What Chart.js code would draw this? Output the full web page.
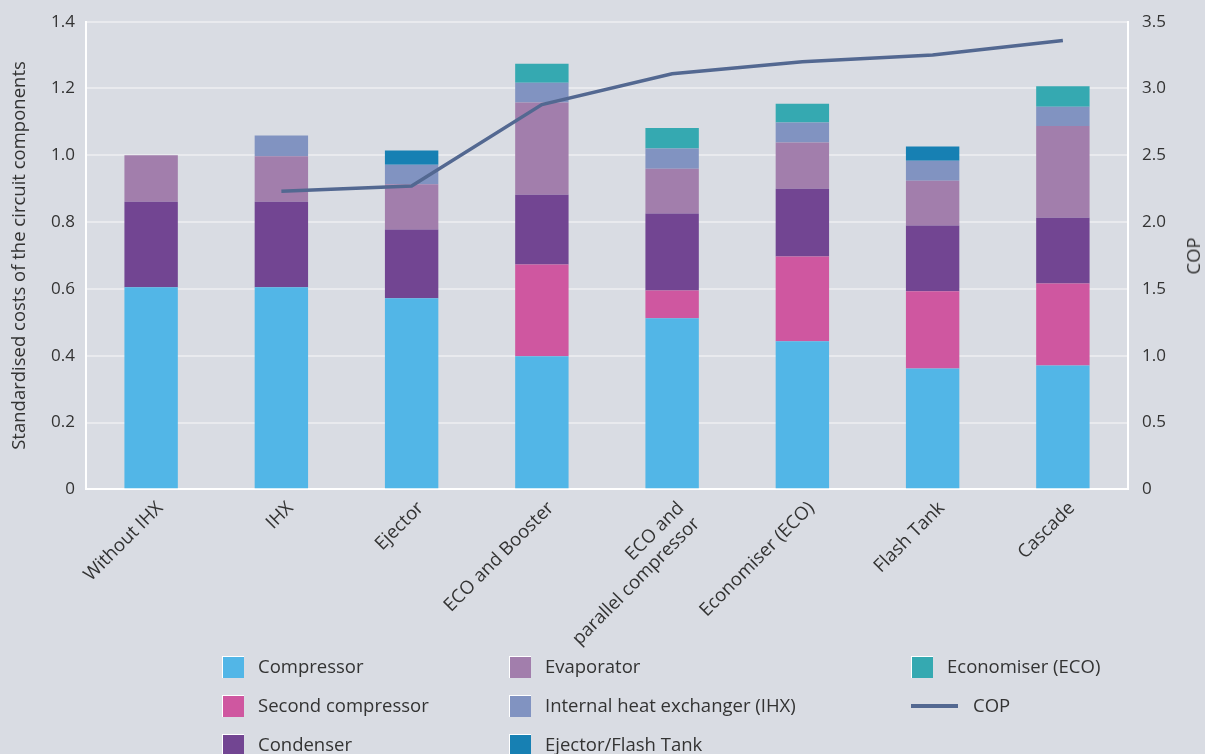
<!DOCTYPE html>
<html>
<head>
<meta charset="utf-8">
<script src="https://cdn.jsdelivr.net/npm/chart.js@4/dist/chart.umd.min.js"></script>
<style>
  html, body { margin:0; padding:0; background:#d9dce3; }
  #wrap { position:relative; width:1205px; height:754px; overflow:hidden; font-family:"Open Sans", sans-serif; }
  canvas { position:absolute; left:0; top:0; }
  .lg { position:absolute; font-size:18.5px; color:#333; white-space:nowrap; line-height:24px; }
  .sw { position:absolute; width:21px; height:21px; border-top:1px solid #fff; border-left:1px solid #fff; }
  .ln { position:absolute; width:47px; height:4px; }
  #copTitle { position:absolute; left:1193px; top:256px; transform:translate(-50%,-50%) rotate(-90deg);
              font-size:18.5px; color:#333; white-space:nowrap; line-height:24px; }
</style>
</head>
<body>
<div id="wrap">
  <canvas id="c" width="1205" height="754"></canvas>
  <div id="copTitle">COP</div>
  <div id="legend"></div>
</div>
<script>
const categories = ["Without IHX", "IHX", "Ejector", "ECO and Booster", ["ECO and", "parallel compressor"], "Economiser (ECO)", "Flash Tank", "Cascade"];
const compressor       = [0.605, 0.605, 0.572, 0.398, 0.512, 0.443, 0.362, 0.371];
const secondCompressor = [0,     0,     0,     0.275, 0.083, 0.254, 0.231, 0.245];
const condenser        = [0.256, 0.256, 0.206, 0.209, 0.231, 0.203, 0.197, 0.197];
const evaporator       = [0.139, 0.136, 0.135, 0.276, 0.134, 0.138, 0.134, 0.275];
const ihx              = [0,     0.062, 0.059, 0.059, 0.060, 0.060, 0.060, 0.057];
const ejectorFlash     = [0,     0,     0.042, 0,     0,     0,     0.042, 0];
const economiser       = [0,     0,     0,     0.057, 0.062, 0.056, 0,     0.062];
const cop              = [null,  2.23,  2.27,  2.88,  3.11,  3.20,  3.25,  3.36];
const leftTicks  = [0, 0.2, 0.4, 0.6, 0.8, 1.0, 1.2, 1.4];
const rightTicks = [0, 0.5, 1.0, 1.5, 2.0, 2.5, 3.0, 3.5];

const colors = {
  compressor: "#52b6e7", second: "#cf57a0", condenser: "#724592", evaporator: "#a27eac",
  ihx: "#8193c1", ejector: "#1780b3", eco: "#35a9b1", cop: "#536891"
};

function bar(label, data, color) {
  return { type: "bar", label, data, backgroundColor: color, borderWidth: 0,
           yAxisID: "y", order: 1, barPercentage: 0.41, categoryPercentage: 1.0 };
}

const FONT = "'Open Sans', sans-serif";
const TXT = "#333333";

new Chart(document.getElementById("c"), {
  data: {
    labels: categories,
    datasets: [
      bar("Compressor", compressor, colors.compressor),
      bar("Second compressor", secondCompressor, colors.second),
      bar("Condenser", condenser, colors.condenser),
      bar("Evaporator", evaporator, colors.evaporator),
      bar("Internal heat exchanger (IHX)", ihx, colors.ihx),
      bar("Ejector/Flash Tank", ejectorFlash, colors.ejector),
      bar("Economiser (ECO)", economiser, colors.eco),
      { type: "line", label: "COP", data: cop, yAxisID: "y1", order: 0,
        borderColor: colors.cop, borderWidth: 3.5, pointRadius: 0, tension: 0, fill: false }
    ]
  },
  options: {
    responsive: false, animation: false, devicePixelRatio: 1,
    layout: { padding: { top: 21.7, left: 0, right: 0, bottom: 0 } },
    plugins: { legend: { display: false }, tooltip: { enabled: false } },
    scales: {
      x: {
        stacked: true,
        grid: { display: false, drawTicks: false },
        border: { display: true, color: "#ffffff", width: 2 },
        ticks: { color: TXT, font: { family: FONT, size: 18.5 }, minRotation: 45, maxRotation: 45, padding: 8,
                 autoSkip: false, labelOffset: 9 },
        afterFit(s) { s.height = 754 - 489.3; s.paddingLeft = 0; s.paddingRight = 0; }
      },
      y: {
        stacked: true, position: "left", min: 0, max: 1.4,
        afterBuildTicks(s) { s.ticks = leftTicks.map(v => ({ value: v })); },
        grid: { color: "#e9eaee", lineWidth: 2, drawTicks: false },
        border: { display: true, color: "#ffffff", width: 2 },
        ticks: { color: TXT, font: { family: FONT, size: 17 }, padding: 11,
                 callback: v => v === 0 ? "0" : v.toFixed(1) },
        title: { display: true, text: "Standardised costs of the circuit components", color: TXT,
                 font: { family: FONT, size: 18.5 }, padding: { top: 9, bottom: 0 } },
        afterFit(s) { s.width = 86; s.paddingTop = 0; s.paddingBottom = 0; }
      },
      y1: {
        position: "right", min: 0, max: 3.5,
        afterBuildTicks(s) { s.ticks = rightTicks.map(v => ({ value: v })); },
        grid: { display: false, drawTicks: false },
        border: { display: true, color: "#ffffff", width: 2 },
        ticks: { color: TXT, font: { family: FONT, size: 17 }, padding: 14,
                 callback: v => v === 0 ? "0" : v.toFixed(1) },
        afterFit(s) { s.width = 1205 - 1128; s.paddingTop = 0; s.paddingBottom = 0; }
      }
    }
  }
});

// Legend (three columns, column-major)
const legendItems = [
  { label: "Compressor", color: colors.compressor, x: 222, y: 667 },
  { label: "Second compressor", color: colors.second, x: 222, y: 706 },
  { label: "Condenser", color: colors.condenser, x: 222, y: 745 },
  { label: "Evaporator", color: colors.evaporator, x: 509, y: 667 },
  { label: "Internal heat exchanger (IHX)", color: colors.ihx, x: 509, y: 706 },
  { label: "Ejector/Flash Tank", color: colors.ejector, x: 509, y: 745 },
  { label: "Economiser (ECO)", color: colors.eco, x: 911, y: 667 },
  { label: "COP", color: colors.cop, x: 911, y: 706, line: true }
];
const lg = document.getElementById("legend");
legendItems.forEach(it => {
  if (it.line) {
    const l = document.createElement("div");
    l.className = "ln"; l.style.background = it.color;
    l.style.left = it.x + "px"; l.style.top = (it.y - 2) + "px";
    lg.appendChild(l);
    const t = document.createElement("div");
    t.className = "lg"; t.textContent = it.label;
    t.style.left = (it.x + 62) + "px"; t.style.top = (it.y - 13) + "px";
    lg.appendChild(t);
  } else {
    const s = document.createElement("div");
    s.className = "sw"; s.style.background = it.color;
    s.style.left = it.x + "px"; s.style.top = (it.y - 11) + "px";
    lg.appendChild(s);
    const t = document.createElement("div");
    t.className = "lg"; t.textContent = it.label;
    t.style.left = (it.x + 36) + "px"; t.style.top = (it.y - 13) + "px";
    lg.appendChild(t);
  }
});
</script>
</body>
</html>
